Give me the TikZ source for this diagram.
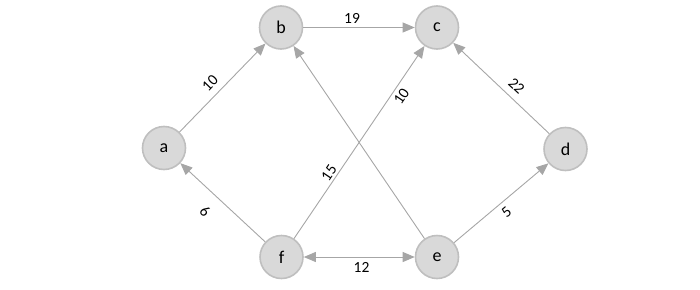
\documentclass[tikz,border=0pt]{standalone}
\usepackage{fontspec}
\setmainfont{Carlito}
\usetikzlibrary{arrows.meta}
\definecolor{nodefill}{HTML}{D9D9D9}
\definecolor{nodeline}{HTML}{BFBFBF}
\definecolor{edgecol}{HTML}{A6A6A6}
\begin{document}
\begin{tikzpicture}[x=1pt,y=-1pt,
  vtx/.style={circle, draw=nodeline, line width=1.6pt, fill=nodefill, minimum size=43pt, inner sep=0pt, font=\fontsize{18}{20}\selectfont},
  edg/.style={draw=edgecol, line width=0.9pt, -{Triangle[length=12pt,width=10pt]}, color=edgecol},
  lbl/.style={font=\fontsize{15.5}{18}\selectfont, inner sep=0pt}]
\useasboundingbox (0,0) rectangle (700,289);
\node[vtx] (a) at (164,148) {a};
\node[vtx] (b) at (281,27.5) {b};
\node[vtx] (c) at (437,27.5) {c};
\node[vtx] (d) at (565.5,149) {d};
\node[vtx] (e) at (437,257) {e};
\node[vtx] (f) at (281.5,257) {f};
\draw[edg] (a) -- (b);
\draw[edg] (b) -- (c);
\draw[edg] (f) -- (c);
\draw[edg] (e) -- (b);
\draw[edg] (d) -- (c);
\draw[edg] (f) -- (a);
\draw[edg] (e) -- (d);
\draw[edg, {Triangle[length=12pt,width=10pt]}-{Triangle[length=12pt,width=10pt]}] (f) -- (e);
\node[lbl, rotate=46] (l1) at (210,83) {10};
\node[lbl] (l2) at (352,18) {19};
\node[lbl, rotate=56] (l3) at (401.5,96.5) {10};
\node[lbl, rotate=56] (l4) at (329,173) {15};
\node[lbl, rotate=-43] (l5) at (516.5,86) {22};
\node[lbl, rotate=-43] (l6) at (205,211) {6};
\node[lbl, rotate=40] (l7) at (506.5,212.5) {5};
\node[lbl] (l8) at (361.5,267.5) {12};
\end{tikzpicture}
\end{document}
